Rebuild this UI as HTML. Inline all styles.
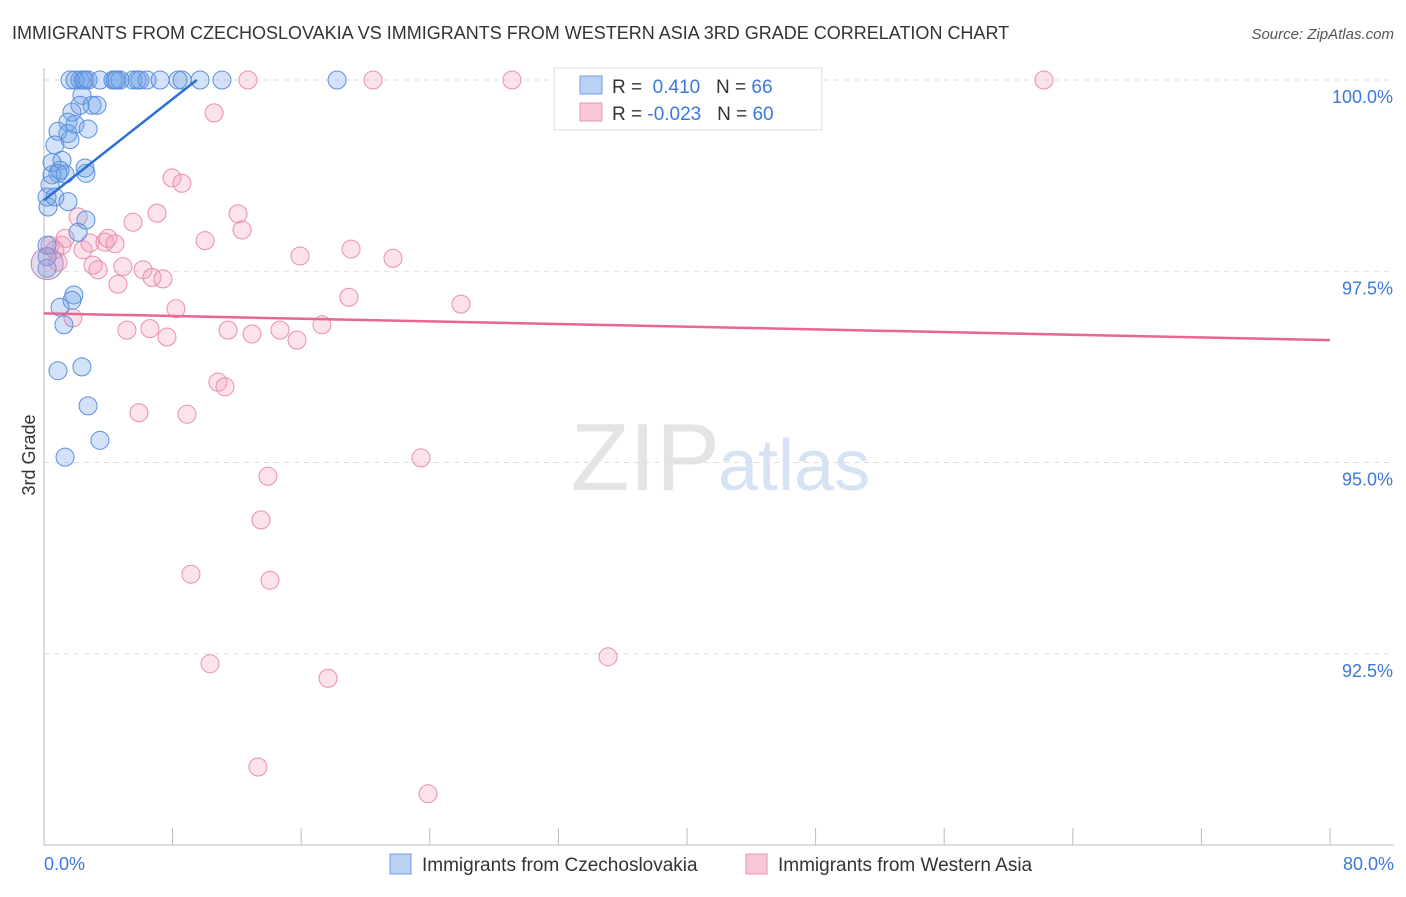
<!DOCTYPE html>
<html><head><meta charset="utf-8"><style>
body{margin:0;background:#fff;font-family:"Liberation Sans",sans-serif}
svg text{font-family:"Liberation Sans",sans-serif}
</style></head><body>
<svg id="chart" width="1406" height="892">
<text x="12" y="39" font-size="18" fill="#333">IMMIGRANTS FROM CZECHOSLOVAKIA VS IMMIGRANTS FROM WESTERN ASIA 3RD GRADE CORRELATION CHART</text>
<text x="1394" y="39" font-size="15" fill="#555" font-style="italic" text-anchor="end">Source: ZipAtlas.com</text>
<text x="720" y="490" font-size="96" fill="#e4e4e4" text-anchor="end" font-family="Liberation Serif">ZIP</text>
<text x="718" y="490" font-size="72" fill="#d6e3f5">atlas</text>
<g id="grid"></g><g id="axes"></g><g id="pts"></g><g id="trends"></g>
<text x="35" y="455" font-size="18" fill="#333" transform="rotate(-90 35 455)" text-anchor="middle">3rd Grade</text>
<text x="44" y="870" font-size="18" fill="#3b78d8">0.0%</text>
<text x="1394" y="870" font-size="18" fill="#3b78d8" text-anchor="end">80.0%</text>
<g>
<rect x="554" y="68" width="268" height="62" fill="#fff" stroke="#ddd"/>
<rect x="580" y="76" width="22" height="18" fill="#b9d1f3" stroke="#6d9ee3"/>
<rect x="580" y="103" width="22" height="18" fill="#f9c7d6" stroke="#ea9ab3"/>
<text x="612" y="93" font-size="19" fill="#333">R = <tspan fill="#3b78d8">&#160;0.410</tspan>&#160;&#160;&#160;N = <tspan fill="#3b78d8">66</tspan></text>
<text x="612" y="120" font-size="19" fill="#333">R = <tspan fill="#3b78d8">-0.023</tspan>&#160;&#160;&#160;N = <tspan fill="#3b78d8">60</tspan></text>
</g>
<g><rect x="390" y="854" width="21" height="20" fill="#b9d1f3" stroke="#6d9ee3"/><text x="422" y="871" font-size="19" fill="#333">Immigrants from Czechoslovakia</text></g>
<g><rect x="746" y="854" width="21" height="20" fill="#f9c7d6" stroke="#ea9ab3"/><text x="778" y="871" font-size="19" fill="#333">Immigrants from Western Asia</text></g>
</svg>
<script>
const yTicks=[100,97.5,95,92.5];
const yTickLabels=["100.0%","97.5%","95.0%","92.5%"];
const xTicks=[0,8,16,24,32,40,48,56,64,72,80];
const blueX=[1.62,1.93,2.24,2.43,2.55,2.74,3.48,4.29,4.42,4.54,4.73,5.54,5.79,5.97,6.41,7.22,8.34,8.59,9.71,11.07,18.23,2.36,1.74,2.24,2.99,3.30,1.49,1.93,0.87,1.49,2.74,1.62,0.68,1.12,2.55,0.50,1.00,0.50,0.87,1.31,2.61,0.37,0.19,0.68,1.49,0.25,2.61,2.12,0.19,0.19,0.19,1.86,1.74,1.00,1.24,0.87,2.36,2.74,3.48,1.31];
const blueY=[100,100,100,100,100,100,100,100,100,100,100,100,100,100,100,100,100,100,100,100,100,99.8,99.58,99.67,99.67,99.67,99.45,99.42,99.33,99.30,99.36,99.22,99.15,98.95,98.85,98.92,98.82,98.76,98.78,98.77,98.78,98.63,98.47,98.47,98.41,98.34,98.17,98.01,97.84,97.69,97.54,97.19,97.12,97.03,96.8,96.2,96.25,95.74,95.29,95.07];
const pinkX=[12.69,20.47,29.11,42.3,62.2,10.58,7.96,8.58,7.03,5.54,12.07,12.32,10.02,15.93,19.1,21.71,2.12,1.31,1.12,0.37,0.68,0.87,2.43,2.86,3.79,3.98,4.42,3.05,3.36,4.91,6.16,6.72,7.4,4.6,8.21,18.97,25.94,1.8,5.16,6.59,7.65,11.45,12.94,14.68,15.74,17.29,10.82,11.26,5.91,8.9,23.45,13.93,13.5,9.14,14.06,10.33,35.09,17.67,13.31,23.89];
const pinkY=[100,100,100,100,100,99.57,98.72,98.65,98.26,98.14,98.25,98.04,97.9,97.7,97.79,97.67,98.21,97.93,97.84,97.84,97.78,97.62,97.78,97.87,97.88,97.93,97.86,97.58,97.52,97.56,97.52,97.42,97.4,97.33,97.01,97.16,97.07,96.89,96.73,96.75,96.64,96.73,96.68,96.73,96.6,96.8,96.05,95.99,95.65,95.63,95.06,94.82,94.25,93.54,93.46,92.37,92.46,92.18,91.02,90.67];
const blueTrend=[[0,98.43],[9.5,100]];
const pinkTrend=[[0,96.95],[80,96.6]];
const X=v=>44+v*16.075, Y=v=>80+(100-v)*76.5;
const NS="http://www.w3.org/2000/svg";
function mk(t,a,p){const e=document.createElementNS(NS,t);for(const k in a)e.setAttribute(k,a[k]);document.getElementById(p).appendChild(e);return e;}
yTicks.forEach((t,i)=>{
 const l=mk('line',{x1:44,x2:1394,y1:Y(t),y2:Y(t),stroke:'#ddd','stroke-dasharray':'5,5'},'grid');
 
 
 const tx=mk('text',{x:1393,y:Y(t)+23,'font-size':18,fill:'#3b78d8','text-anchor':'end'},'grid');
 tx.textContent=yTickLabels[i];
 
 
});
const ya=mk('line',{x1:44,x2:44,y1:68,y2:845,stroke:'#bbb'},'axes');


const xa=mk('line',{x1:44,x2:1394,y1:845,y2:845,stroke:'#bbb'},'axes');


xTicks.forEach(t=>{
 const l=mk('line',{x1:X(t),x2:X(t),y1:828,y2:845,stroke:'#bbb'},'axes');
 
 
});
function pts(xs,ys,fill,stroke,name){
 xs.forEach((x,i)=>{
  const c=mk('circle',{cx:X(x),cy:Y(ys[i]),r:9,fill:fill,stroke:stroke,'stroke-width':1},'pts');
  
  
 });
}
pts(pinkX,pinkY,'rgba(244,160,188,0.3)','#e88fab','western-asia-point');
pts(blueX,blueY,'rgba(110,160,232,0.3)','#5b8fdc','czechoslovakia-point');
const big=mk('circle',{cx:X(0.2),cy:Y(97.6),r:16,fill:'rgba(180,150,200,0.35)',stroke:'#b08cc0'},'pts');


const bt=mk('line',{x1:X(blueTrend[0][0]),y1:Y(blueTrend[0][1]),x2:X(blueTrend[1][0]),y2:Y(blueTrend[1][1]),stroke:'#2d6fd6','stroke-width':2.5},'trends');


const pt=mk('line',{x1:X(pinkTrend[0][0]),y1:Y(pinkTrend[0][1]),x2:X(pinkTrend[1][0]),y2:Y(pinkTrend[1][1]),stroke:'#e8668f','stroke-width':2.5},'trends');


</script>
</body></html>
